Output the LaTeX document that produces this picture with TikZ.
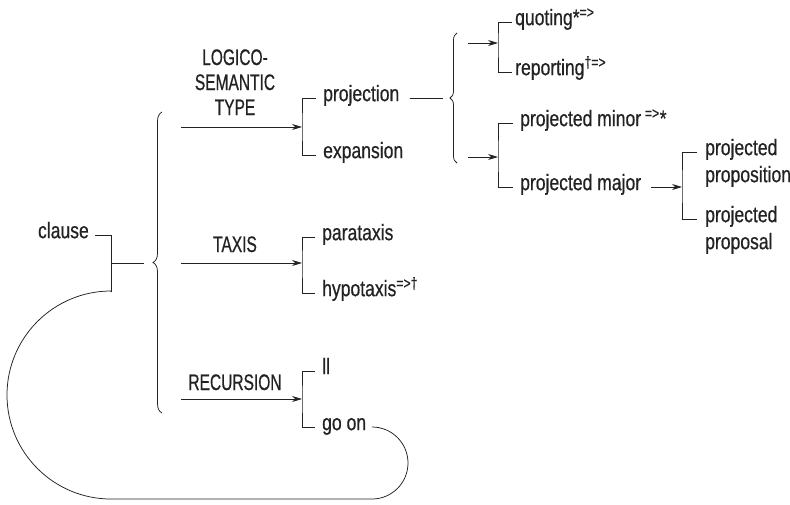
\documentclass[tikz,border=0pt]{standalone}
\usepackage{fontspec}
\setmainfont{Liberation Sans}[FakeStretch=0.78, FakeBold=0.6]
\newfontfamily\capsfont{Liberation Sans}[FakeStretch=0.69, FakeBold=0.6]
\usetikzlibrary{arrows.meta,decorations.pathreplacing}
\definecolor{ink}{HTML}{222222}
\tikzset{
  leaf/.style={font=\fontsize{22.5}{27}\selectfont, text=ink, inner sep=0pt, anchor=west, text height=1.2ex, text depth=0pt},
  syslabel/.style={font=\capsfont\fontsize{22.5}{25}\selectfont, text=ink, inner sep=0pt, anchor=base},
  ln/.style={draw=ink, line width=0.75pt},
  arr/.style={ln, -{Stealth[length=10pt,width=6pt]}},
  bigbrace/.style={ln, decorate, decoration={brace, amplitude=#1}}
}
\newcommand{\sups}[1]{\textsuperscript{#1}}
\begin{document}
\begin{tikzpicture}[x=1pt,y=-1pt]
\useasboundingbox (0,0) rectangle (790,504);

% clause and recursion loop
\node[leaf, anchor=east] (clause) at (89,235) {clause};
\coordinate (cj) at (111,263);
\coordinate (cb) at (111,292);
\coordinate (ce) at (144,263);
\draw[ln] ([xshift=6pt]clause.east) -| (cb);
\draw[ln] (cj) -- (ce);

% main brace
\coordinate (mbB) at (162,413);
\coordinate (mbT) at (162,112);
\draw[bigbrace=9pt] (mbB) -- (mbT);

% system labels
\node[syslabel] (lst) at (235,65) {\begin{tabular}[t]{@{}c@{}}LOGICO-\\SEMANTIC\\TYPE\end{tabular}};
\node[syslabel] (tax) at (235,252) {TAXIS};
\node[syslabel] (rec) at (235,390) {RECURSION};

\coordinate (s1) at (181,127); \coordinate (b1) at (302,127);
\coordinate (s2) at (181,263); \coordinate (b2) at (302,263);
\coordinate (s3) at (181,399); \coordinate (b3) at (302,399);
\draw[arr] (s1) -- (b1);
\draw[arr] (s2) -- (b2);
\draw[arr] (s3) -- (b3);

% first-level terms
\node[leaf] (proj) at (323,98) {projection};
\node[leaf] (expa) at (323,155) {expansion};
\node[leaf] (para) at (322,237) {parataxis};
\node[leaf] (hypo) at (322,293) {hypotaxis\sups{=>†}};
\node[leaf] (ll) at (322,371) {ll};
\node[leaf] (goon) at (322,427) {go on};

\draw[ln] ([xshift=-7pt]proj.west) -| (b1) |- ([xshift=-7pt]expa.west);
\draw[ln] ([xshift=-7pt]para.west) -| (b2) |- ([xshift=-7pt]hypo.west);
\draw[ln] ([xshift=-7pt]ll.west) -| (b3) |- ([xshift=-7pt]goon.west);

% loop from go on back to clause
\coordinate (le) at (372,427);
\draw[ln] (le) arc[start angle=90, end angle=-90, radius=36pt]
  -- ++(-261,0) arc[start angle=270, end angle=90, radius=104pt] -- (cb);

% projection sub-system
\coordinate (pl) at (443,98);
\draw[ln] ([xshift=10pt]proj.east) -- (proj.east -| pl);
\coordinate (pbB) at (457,163);
\coordinate (pbT) at (457,33);
\draw[bigbrace=7pt] (pbB) -- (pbT);

\coordinate (s4) at (468,43); \coordinate (b4) at (498,43);
\coordinate (s5) at (468,157); \coordinate (b5) at (498,157);
\draw[arr] (s4) -- (b4);
\draw[arr] (s5) -- (b5);

\node[leaf] (quot) at (515,22) {quoting*\sups{=>}};
\node[leaf] (repo) at (515,72) {reporting\sups{†=>}};
\node[leaf] (minor) at (520,123) {projected minor\,\sups{=>}*};
\node[leaf] (major) at (520,187) {projected major};

\draw[ln] ([xshift=-3pt]quot.west) -| (b4) |- ([xshift=-3pt]repo.west);
\draw[ln] ([xshift=-7pt]minor.west) -| (b5) |- ([xshift=-7pt]major.west);

\coordinate (b6) at (682,187);
\draw[arr] ([xshift=10pt]major.east) -- (b6);

\node[leaf] (prop) at (705,152) {\begin{tabular}[t]{@{}l@{}}projected\\proposition\end{tabular}};
\node[leaf] (propo) at (705,219) {\begin{tabular}[t]{@{}l@{}}projected\\proposal\end{tabular}};
\draw[ln] ([xshift=-8pt]prop.west) -| (b6) |- ([xshift=-8pt]propo.west);

\end{tikzpicture}
\end{document}
